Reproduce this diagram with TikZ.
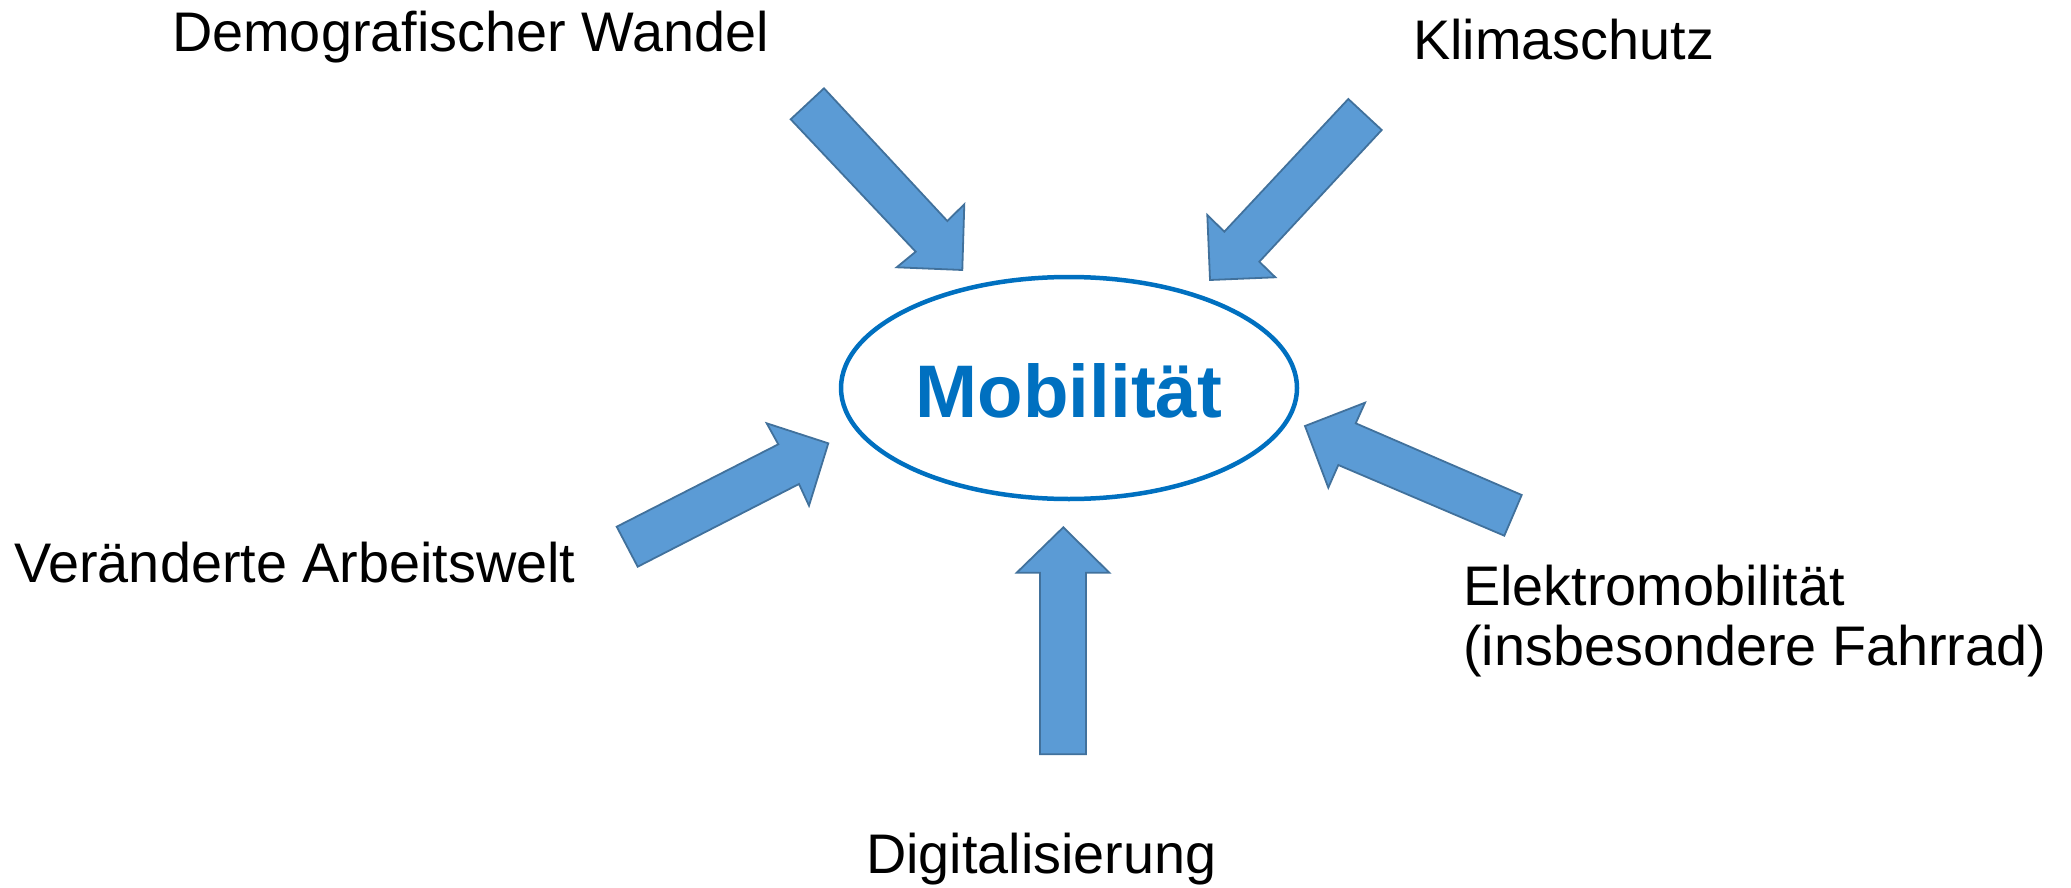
\documentclass[tikz,border=0pt]{standalone}
\usepackage{fontspec}
\setmainfont{Liberation Sans}
\definecolor{arrfill}{HTML}{5B9BD5}
\definecolor{arrdraw}{HTML}{41719C}
\definecolor{mobblue}{HTML}{0070C0}
\begin{document}
\begin{tikzpicture}[x=1pt,y=-1pt,
  blockarrow/.style={fill=arrfill,draw=arrdraw,line width=1.8pt,line join=miter},
  lbl/.style={anchor=base west,inner sep=0pt,font=\fontsize{55.8}{60}\selectfont,text=black},
  centre/.style={draw=mobblue,line width=4.5pt}]
\useasboundingbox (0,0) rectangle (2071,888);
% centre ellipse
\draw[centre] (1069,388) ellipse [x radius=228, y radius=111];
\node[anchor=base,inner sep=0pt,text=mobblue,font=\fontsize{74.5}{80}\selectfont\bfseries] (mob) at (1069,417) {Mobilität};
% arrows
\draw[blockarrow] (790.7,119.3) -- (824,88.3) -- (947.3,221) -- (964.3,204.3) -- (962.3,270) -- (896.7,267.3) -- (915.7,251.7) -- cycle;
\draw[blockarrow] (1348.3,99) -- (1381.7,130) -- (1259.3,261.7) -- (1275.3,277.3) -- (1210,280) -- (1207.3,215) -- (1224.3,231.7) -- cycle;
\draw[blockarrow] (616.7,526.7) -- (778.3,444.3) -- (766.7,423.3) -- (828.3,443.3) -- (809,505.7) -- (799,484) -- (637.7,566.7) -- cycle;
\draw[blockarrow] (1521.7,495) -- (1504.3,535.7) -- (1338.3,465) -- (1328.3,487.7) -- (1305,426) -- (1365,402.7) -- (1355.7,423.3) -- cycle;
\draw[blockarrow] (1063.3,527.3) -- (1109.3,572.7) -- (1086,572.7) -- (1086,754.3) -- (1040,754.3) -- (1040,572.7) -- (1016.7,572.7) -- cycle;
% labels
\node[lbl] (demo) at (172,52) {Demografischer Wandel};
\node[lbl] (klima) at (1413,60) {Klimaschutz};
\node[lbl] (arbeit) at (14,582) {Veränderte Arbeitswelt};
\node[lbl] (elektro) at (1463,605) {Elektromobilität};
\node[lbl] (fahrrad) at (1463,665) {(insbesondere Fahrrad)};
\node[lbl] (digital) at (866,873) {Digitalisierung};
\end{tikzpicture}
\end{document}
